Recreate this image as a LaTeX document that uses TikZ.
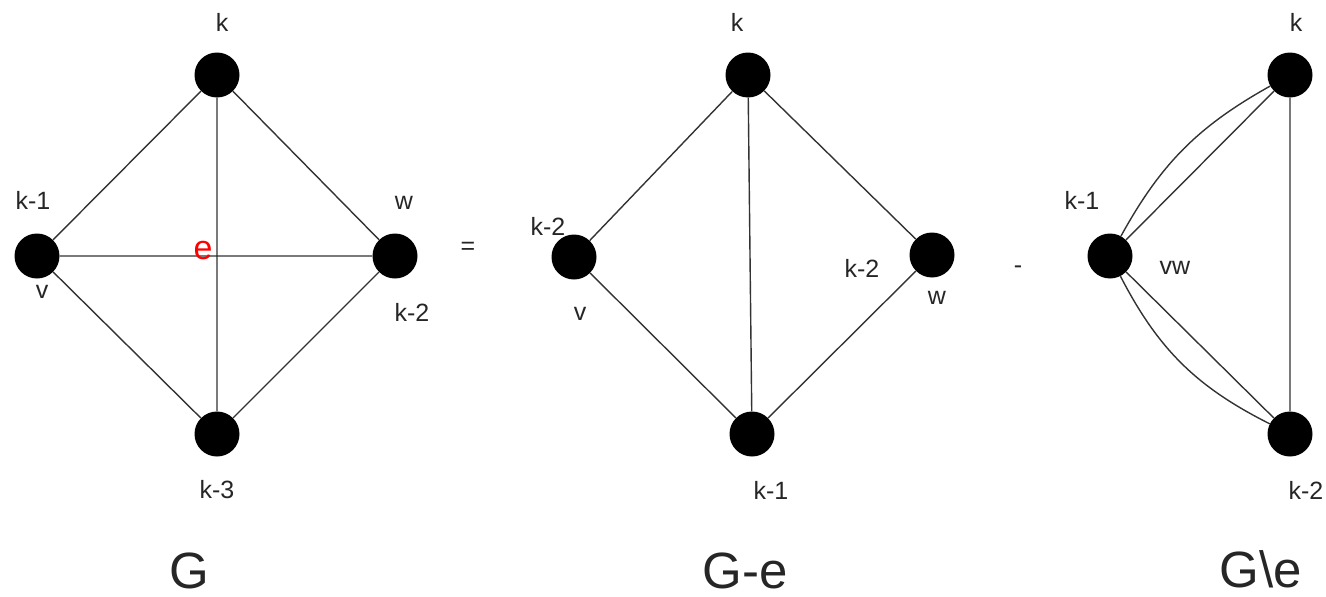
\documentclass[tikz,border=0pt]{standalone}
\usepackage{fontspec}
\setmainfont{Liberation Sans}
\begin{document}
\begin{tikzpicture}[x=1pt,y=-1pt,
  vtx/.style={circle,fill=black,minimum size=45pt,inner sep=0pt},
  edge/.style={draw=black!80,line width=1.4pt},
  lbl/.style={font=\fontsize{25}{27}\selectfont,inner sep=0pt,text=black!85},
  big/.style={font=\fontsize{51}{55}\selectfont,inner sep=0pt,text=black!85}]
\useasboundingbox (0,0) rectangle (1326,597);
% Graph G
\node[vtx] (gk) at (217,75) {};
\node[vtx] (gv) at (37,256) {};
\node[vtx] (gw) at (395,256) {};
\node[vtx] (gb) at (217,434) {};
\draw[edge] (gv) -- (gk) (gk) -- (gw) (gw) -- (gb) (gb) -- (gv) (gk) -- (gb) (gv) -- (gw);
\node[lbl] (gkl) at (222,22) {k};
\node[lbl] (gvl1) at (33,200) {k-1};
\node[lbl] (gwl) at (404,203) {w};
\node[lbl] (gvl) at (42,292) {v};
\node[lbl] (gwl2) at (412,312) {k-2};
\node[lbl] (gbl) at (217,490) {k-3};
\node[inner sep=0pt,text=red,font=\fontsize{34}{36}\selectfont] (ge) at (203,251) {e};
\node[big] (gG) at (189,571) {G};
\node[lbl] (eq) at (468,248) {=};
% Graph G-e
\node[vtx] (hk) at (748,75) {};
\node[vtx] (hv) at (574,257) {};
\node[vtx] (hw) at (932,255) {};
\node[vtx] (hb) at (752,434) {};
\draw[edge] (hv) -- (hk) (hk) -- (hw) (hw) -- (hb) (hb) -- (hv) (hk) -- (hb);
\node[lbl] (hkl) at (737,22) {k};
\node[lbl] (hvl1) at (548,226) {k-2};
\node[lbl] (hvl) at (580,314) {v};
\node[lbl] (hwl1) at (862,268) {k-2};
\node[lbl] (hwl) at (937,298) {w};
\node[lbl] (hbl) at (771,490) {k-1};
\node[big] (hG) at (745,571) {G-e};
\node[lbl] (minus) at (1018,270) {-};
% Graph G\e
\node[vtx] (ik) at (1290,75) {};
\node[vtx] (il) at (1110,256) {};
\node[vtx] (ib) at (1290,434) {};
\draw[edge] (il) -- (ik) (il) -- (ib) (ik) -- (ib);
\draw[edge] (il) to[bend left=16] (ik);
\draw[edge] (il) to[bend right=18] (ib);
\node[lbl] (ikl) at (1296,22) {k};
\node[lbl] (ill) at (1082,200) {k-1};
\node[lbl] (ilv) at (1175,268) {vw};
\node[lbl] (ibl) at (1306,490) {k-2};
\node[big] (iG) at (1261,569) {G\textbackslash e};
\end{tikzpicture}
\end{document}
